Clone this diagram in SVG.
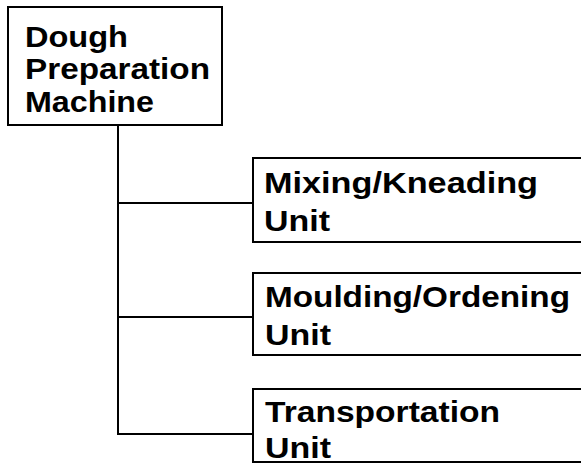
<svg xmlns="http://www.w3.org/2000/svg" width="581" height="468" viewBox="0 0 581 468">
<style>
.box{fill:#fff;stroke:#000;stroke-width:2}
.conn{fill:none;stroke:#000;stroke-width:2}
text{font-family:"Liberation Sans",Arial,sans-serif;font-weight:bold;font-size:30px;fill:#000}
</style>
<rect width="581" height="468" fill="#fff"/>
<g id="connectors">
<path class="conn" d="M118,125 V434 H253 M118,203 H253 M118,317 H253"/>
</g>
<g id="node-machine">
<rect class="box" x="8" y="7" width="214" height="118"/>
<text x="25" y="47" textLength="103" lengthAdjust="spacingAndGlyphs">Dough</text>
<text x="25" y="79" textLength="185" lengthAdjust="spacingAndGlyphs">Preparation</text>
<text x="25" y="112" textLength="129" lengthAdjust="spacingAndGlyphs">Machine</text>
</g>
<g id="node-mixing">
<rect class="box" x="253" y="158" width="340" height="84"/>
<text x="264" y="193" textLength="274" lengthAdjust="spacingAndGlyphs">Mixing/Kneading</text>
<text x="264" y="231" textLength="66" lengthAdjust="spacingAndGlyphs">Unit</text>
</g>
<g id="node-moulding">
<rect class="box" x="253" y="273" width="340" height="82"/>
<text x="265" y="307" textLength="305" lengthAdjust="spacingAndGlyphs">Moulding/Ordening</text>
<text x="265" y="345" textLength="66" lengthAdjust="spacingAndGlyphs">Unit</text>
</g>
<g id="node-transport">
<rect class="box" x="253" y="389" width="340" height="73"/>
<text x="265" y="422" textLength="235" lengthAdjust="spacingAndGlyphs">Transportation</text>
<text x="265" y="458" textLength="66" lengthAdjust="spacingAndGlyphs">Unit</text>
</g>
</svg>
